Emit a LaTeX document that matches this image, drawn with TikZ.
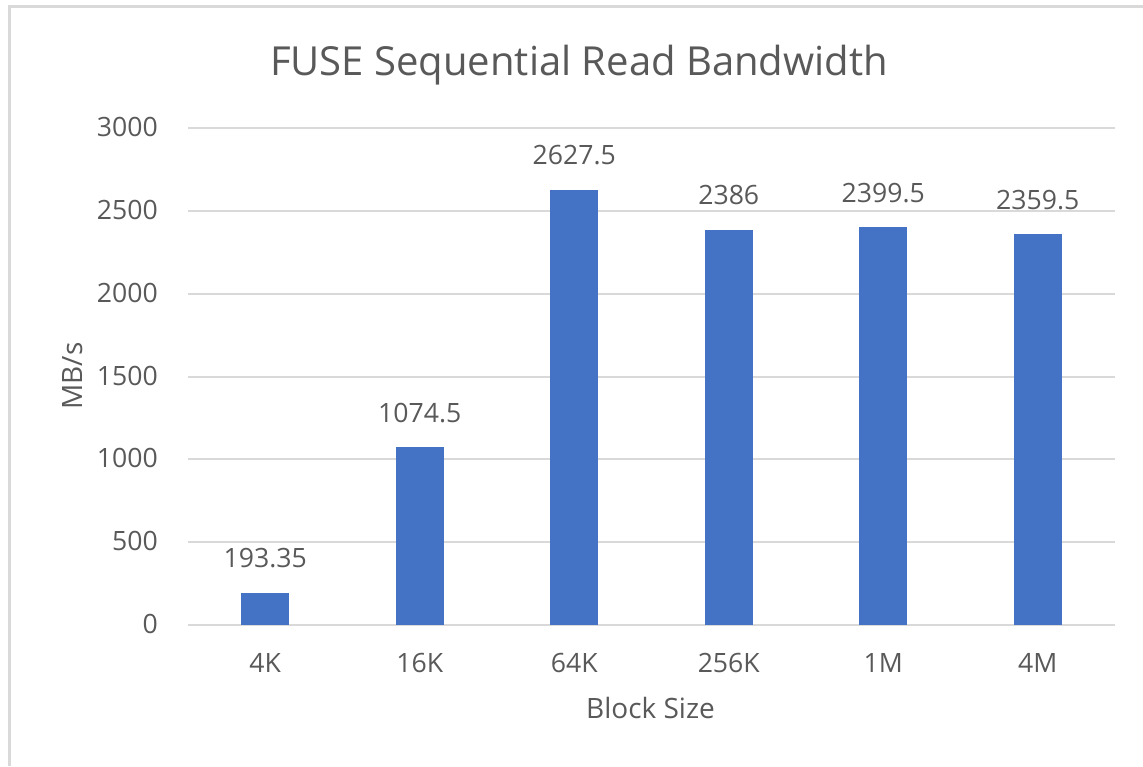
\documentclass[tikz,border=0pt]{standalone}
\usepackage{fontspec}
\setmainfont{Open Sans}
\definecolor{txt}{HTML}{595959}
\definecolor{grid}{HTML}{D9D9D9}
\definecolor{bar}{HTML}{4472C4}
\begin{document}
\begin{tikzpicture}[x=1pt,y=-1pt,
  lbl/.style={text=txt,font=\fontsize{26.6}{32}\selectfont,inner sep=0},
  ticklbl/.style={lbl,anchor=base east},
  catlbl/.style={lbl,anchor=base},
  vallbl/.style={lbl,anchor=base},
  axtitle/.style={text=txt,font=\fontsize{28}{34}\selectfont,inner sep=0},
  barbox/.style={fill=bar,draw=none},
  gridline/.style={draw=grid,line width=2pt},
  frameline/.style={draw=grid,line width=3pt}]
\useasboundingbox (0,0) rectangle (1143,766);
\fill[white] (0,0) rectangle (1143,766);
\draw[frameline] (9,766) -- (9,6) -- (1143,6);
% grid
\foreach \v/\yy in {0/625,500/542.17,1000/459.33,1500/376.5,2000/293.67,2500/210.83,3000/128}{
  \draw[gridline] (188,\yy) -- (1115,\yy);
  \node[ticklbl] (t\v) at (158,\yy+8.5) {\v};
}
% bars
\foreach \i/\cx/\val/\lab/\cat in {1/265.25/193.35/193.35/4K,2/419.75/1074.5/1074.5/16K,3/574.25/2627.5/2627.5/64K,4/728.75/2386/2386/256K,5/883.25/2399.5/2399.5/1M,6/1037.75/2359.5/2359.5/4M}{
  \pgfmathsetmacro{\top}{625-\val*0.165667}
  \fill[barbox] (\cx-24,625) rectangle (\cx+24,\top);
  \node[vallbl] (v\i) at (\cx,\top-25) {\lab};
  \node[catlbl] (c\i) at (\cx,672) {\cat};
}
\node[text=txt,font=\fontsize{40}{46}\selectfont,anchor=base,inner sep=0] (title) at (579,75) {FUSE Sequential Read Bandwidth};
\node[axtitle,anchor=base] (xt) at (650.5,718) {Block Size};
\node[axtitle,anchor=base,rotate=90] (yt) at (82,376) {MB/s};
\end{tikzpicture}
\end{document}
